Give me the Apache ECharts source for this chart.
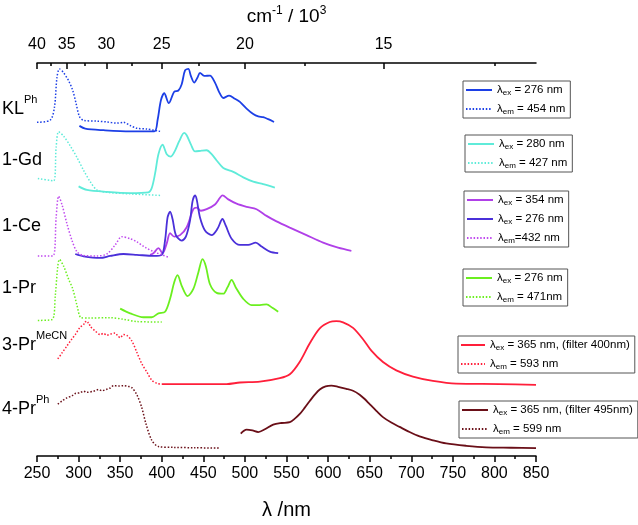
<!DOCTYPE html>
<html><head><meta charset="utf-8">
<script src="https://cdn.jsdelivr.net/npm/echarts@6/dist/echarts.min.js"></script>
<style>html,body{margin:0;padding:0;background:#fff}#c{width:638px;height:525px}</style>
</head><body><div id="c"></div>
<script>
// ---- data: [wavelength nm, intensity (a.u., offset for clarity)] ----
const klEx = [[301,84.0],[308,83.3],[330,82.9],[362,82.6],[391,82.6],[395,85.5],[399,90.5],[403,92.3],[408.5,89.8],[415,92.7],[420,93.0],[424,94.6],[428,98.1],[432,98.5],[435,96.7],[439,95.0],[443,96.3],[446,97.5],[451,96.7],[458,96.8],[464,95.0],[469,92.6],[474,91.1],[481,91.7],[488,90.9],[494,90.1],[502,88.4],[510,87.0],[516,86.4],[522,86.2],[528,85.7],[535,85.0]];
const klEm = [[250,84.9],[266,85.5],[271,88.8],[274,96.3],[277,98.5],[282,97.5],[288,95.5],[293,93.0],[297,89.7],[301,86.4],[306,85.4],[322,85.2],[334,85.0],[346,84.7],[354,84.9],[362,84.1],[370,83.4],[382,83.2],[398,82.6]];
const gdEx = [[300,68.6],[310,67.7],[334,67.2],[362,66.9],[384,67.1],[388,68.2],[392,71.9],[396,76.8],[401,79.2],[406,76.8],[411,76.2],[416,77.7],[421,80.1],[427,82.2],[430,81.6],[435,79.3],[440,77.5],[448,77.7],[454,77.8],[460,76.8],[466,75.2],[474,73.3],[486,72.3],[498,70.9],[510,69.8],[522,69.2],[536,68.3]];
const gdEm = [[251,70.6],[270,70.0],[273,78.5],[276,82.5],[282,81.4],[290,78.9],[298,76.0],[306,72.7],[314,69.8],[322,67.7],[334,67.1],[362,66.7],[398,66.3]];
const ceEx354 = [[386,51.2],[390,51.6],[396,52.9],[401,51.6],[406,54.1],[410,56.7],[415,55.8],[422,56.2],[430,58.2],[438,62.8],[442,63.2],[447,62.4],[454,62.8],[464,64.0],[470,65.7],[473,66.3],[480,65.3],[490,64.2],[502,63.4],[514,62.8],[526,61.1],[538,59.7],[554,58.1],[574,56.2],[594,54.3],[612,53.0],[628,52.2]];
const ceEx276 = [[296,51.4],[306,50.8],[326,50.4],[338,50.9],[354,51.4],[370,51.2],[390,50.9],[400,51.2],[404,54.9],[407,60.7],[410,62.2],[413,60.3],[417,56.2],[424,54.8],[429,55.8],[434,59.9],[437,64.8],[440,66.3],[442,65.3],[446,60.7],[452,57.4],[460,56.2],[467,57.8],[473,60.3],[477,58.6],[484,55.3],[494,53.7],[504,53.7],[513,54.3],[520,53.3],[530,52.0],[540,51.6]];
const ceEm = [[251,50.9],[269,50.9],[273,60.7],[276,66.1],[280,64.0],[286,59.1],[292,54.9],[298,52.0],[306,51.0],[322,50.9],[334,51.4],[344,53.7],[352,55.8],[362,55.3],[370,54.5],[380,53.1],[390,52.0],[400,51.2],[408,50.6]];
const prEx = [[350,37.5],[362,36.3],[378,35.3],[388,35.3],[396,36.3],[404,36.7],[410,40.0],[415,44.2],[419,46.0],[424,43.3],[431,40.7],[438,42.5],[444,46.7],[449,50.1],[453,48.3],[458,43.7],[466,41.5],[474,41.3],[479,42.9],[484,44.8],[489,42.9],[498,40.0],[508,38.4],[518,38.4],[526,38.6],[533,37.7],[540,36.7]];
const prEm = [[251,34.5],[268,34.7],[272,40.9],[275,48.3],[277,50.0],[282,48.3],[288,45.0],[293,42.5],[298,38.4],[303,35.2],[312,35.1],[338,35.2],[354,34.8],[370,34.2],[400,34.1]];
const pr3Ex = [[400,18.3],[440,18.3],[478,18.3],[494,18.7],[518,18.9],[542,19.8],[554,20.8],[566,24.0],[578,28.7],[590,32.5],[602,34.1],[610,34.3],[618,34.0],[630,32.6],[642,29.7],[652,26.8],[666,23.9],[682,21.8],[702,20.2],[726,19.1],[754,18.4],[806,18.3],[850,18.1]];
const pr3Em = [[275,24.7],[280,26.2],[286,28.0],[292,29.8],[296,30.9],[302,32.8],[306,33.4],[308,34.2],[310,33.8],[312,34.0],[314,33.0],[320,31.8],[326,30.9],[330,31.2],[334,30.7],[338,31.0],[344,31.3],[347,30.6],[350,30.1],[354,30.9],[358,30.7],[364,29.3],[370,26.4],[376,23.5],[382,21.4],[388,19.3],[394,18.5],[400,18.3]];
const pr4Ex = [[495,5.7],[502,6.7],[509,6.5],[516,6.1],[524,6.8],[534,8.0],[544,8.4],[554,8.6],[560,9.5],[566,10.7],[572,12.3],[578,14.0],[584,15.6],[590,16.9],[597,17.7],[604,17.9],[612,17.6],[622,17.1],[630,16.6],[638,15.6],[644,14.5],[650,13.2],[658,11.5],[666,9.9],[676,8.5],[686,7.4],[698,6.1],[710,5.0],[726,4.0],[742,3.2],[766,2.6],[790,2.2],[820,2.1],[850,2.0]];
const pr4Em = [[275,13.2],[280,14.0],[286,14.8],[292,15.3],[296,15.9],[302,16.1],[306,16.5],[310,16.2],[318,16.5],[324,16.9],[328,16.6],[334,17.0],[338,17.3],[342,17.9],[348,17.8],[354,17.9],[360,17.7],[364,17.4],[370,15.6],[376,12.3],[381,8.2],[388,4.0],[396,2.4],[414,2.2],[440,2.1],[470,2.0]];

// tick labels
const topTicks = [40, 35, 30, 25, 20, 15];          // cm-1 / 10^3
const topMinorTicks = [37.5, 32.5, 27.5, 22.5, 17.5, 12.5];
const sampleNames = ['KL', '1-Gd', '1-Ce', '1-Pr', '3-Pr', '4-Pr'];
const sampleSups = ['Ph', '', '', '', 'MeCN', 'Ph'];
const legendTexts = {
  klEx: ['ex', ' = 276 nm'], klEm: ['em', ' = 454 nm'],
  gdEx: ['ex', ' = 280 nm'], gdEm: ['em', ' = 427 nm'],
  ceEx354: ['ex', ' = 354 nm'], ceEx276: ['ex', ' = 276 nm'], ceEm: ['em', '=432 nm'],
  prEx: ['ex', ' = 276 nm'], prEm: ['em', ' = 471nm'],
  pr3Ex: ['ex', ' = 365 nm, (filter 400nm)'], pr3Em: ['em', ' = 593 nm'],
  pr4Ex: ['ex', ' = 365 nm, (filter 495nm)'], pr4Em: ['em', ' = 599 nm']
};

const FONT = '"Liberation Sans", Arial, sans-serif';
const toNm = k => 1e4 / k;

function ser(name, data, color, dotted) {
  return {
    name, type: 'line', data, symbol: 'none', smooth: 0.3,
    silent: true, animation: false,
    lineStyle: dotted ? { color, width: 1.5, type: [1.5, 1.8] } : { color, width: 1.8 },
    itemStyle: { color },
    emphasis: { disabled: true }
  };
}

const C = {
  kl: '#1C3FE6', gd: '#5FEBD9', ceM: '#B040E8', ceB: '#4A30D9', ceD: '#C04BEF',
  pr: '#6BEF1F', p3: '#FF1F3A', p4: '#6A0F18'
};

const series = [
  ser('klEx', klEx, C.kl, false), ser('klEm', klEm, C.kl, true),
  ser('gdEx', gdEx, C.gd, false), ser('gdEm', gdEm, C.gd, true),
  ser('ceEx354', ceEx354, C.ceM, false), ser('ceEx276', ceEx276, C.ceB, false), ser('ceEm', ceEm, C.ceD, true),
  ser('prEx', prEx, C.pr, false), ser('prEm', prEm, C.pr, true),
  ser('pr3Ex', pr3Ex, C.p3, false), ser('pr3Em', pr3Em, C.p3, true),
  ser('pr4Ex', pr4Ex, C.p4, false), ser('pr4Em', pr4Em, C.p4, true)
];

const legRich = {
  m: { fontSize: 11.5, lineHeight: 14, fontFamily: FONT, color: '#000' },
  s: { fontSize: 8, lineHeight: 14, verticalAlign: 'top', padding: [6, 0, 0, 0], fontFamily: FONT, color: '#000' }
};
function legend(names, left, top, itemWidth) {
  return {
    orient: 'vertical', left, top, data: names, itemWidth: itemWidth || 26, itemHeight: 14, itemGap: 5,
    padding: [2, 5, 2, 2], borderColor: '#555', borderWidth: 1, selectedMode: false,
    itemStyle: { opacity: 0 },
    formatter: n => '{m|λ}{s|' + legendTexts[n][0] + '}{m|' + legendTexts[n][1] + '}',
    textStyle: { color: '#000', fontFamily: FONT, fontSize: 11.5, rich: legRich }
  };
}

const lblRich = {
  n: { fontSize: 18, lineHeight: 30, fontFamily: FONT, color: '#000' },
  p: { fontSize: 11, lineHeight: 30, verticalAlign: 'top', fontFamily: FONT, color: '#000' }
};
const labelTops = [94, 151, 217, 279, 330, 394];

const axisLine = { show: true, lineStyle: { color: '#000', width: 1.5 } };
const tickLine = { color: '#000', width: 1.5 };

const option = {
  animation: false,
  backgroundColor: '#fff',
  grid: { left: 37, right: 102, top: 60, bottom: 62, containLabel: false },
  xAxis: [
    {
      type: 'value', position: 'bottom', min: 250, max: 850, interval: 50,
      axisLine, splitLine: { show: false },
      axisTick: { show: true, length: 6, lineStyle: tickLine },
      minorTick: { show: true, splitNumber: 2, length: 3, lineStyle: tickLine },
      minorSplitLine: { show: false },
      axisLabel: { color: '#000', fontSize: 16, fontFamily: FONT, margin: 10 },
      name: 'λ /nm', nameLocation: 'middle', nameGap: 44,
      nameTextStyle: { color: '#000', fontSize: 20, fontFamily: FONT }
    },
    {
      type: 'value', position: 'top', min: 250, max: 850,
      axisLine, splitLine: { show: false },
      axisTick: { show: true, inside: true, length: 6, lineStyle: tickLine, customValues: topTicks.map(toNm) },
      axisLabel: { show: true, customValues: topTicks.map(toNm), formatter: v => String(Math.round(1e4 / v)),
        color: '#000', fontSize: 16, fontFamily: FONT, margin: 10 },
      name: '{a|cm}{s|-1}{a| / 10}{s|3}', nameLocation: 'middle', nameGap: 34,
      nameTextStyle: { color: '#000', fontFamily: FONT, rich: {
        a: { fontSize: 19, lineHeight: 24, fontFamily: FONT, color: '#000' },
        s: { fontSize: 12, lineHeight: 24, verticalAlign: 'top', fontFamily: FONT, color: '#000' } } }
    },
    {
      type: 'value', position: 'top', min: 250, max: 850,
      axisLine: { show: false }, splitLine: { show: false },
      axisTick: { show: true, inside: true, length: 3, lineStyle: tickLine, customValues: topMinorTicks.map(toNm) },
      axisLabel: { show: false }
    }
  ],
  yAxis: { type: 'value', min: 0, max: 100, show: false },
  legend: [
    legend(['klEx', 'klEm'], 463, 81),
    legend(['gdEx', 'gdEm'], 465, 135),
    legend(['ceEx354', 'ceEx276', 'ceEm'], 464, 191),
    legend(['prEx', 'prEm'], 463, 269),
    legend(['pr3Ex', 'pr3Em'], 458, 336, 24),
    legend(['pr4Ex', 'pr4Em'], 459, 401, 26)
  ],
  graphic: sampleNames.map((n, i) => ({
    type: 'text', left: 2, top: labelTops[i], silent: true,
    style: { text: '{n|' + n + '}' + (sampleSups[i] ? '{p|' + sampleSups[i] + '}' : ''), rich: lblRich, fill: '#000' }
  })),
  series
};

const chart = echarts.init(document.getElementById('c'), null, { renderer: 'canvas' });
chart.setOption(option);
</script></body></html>
